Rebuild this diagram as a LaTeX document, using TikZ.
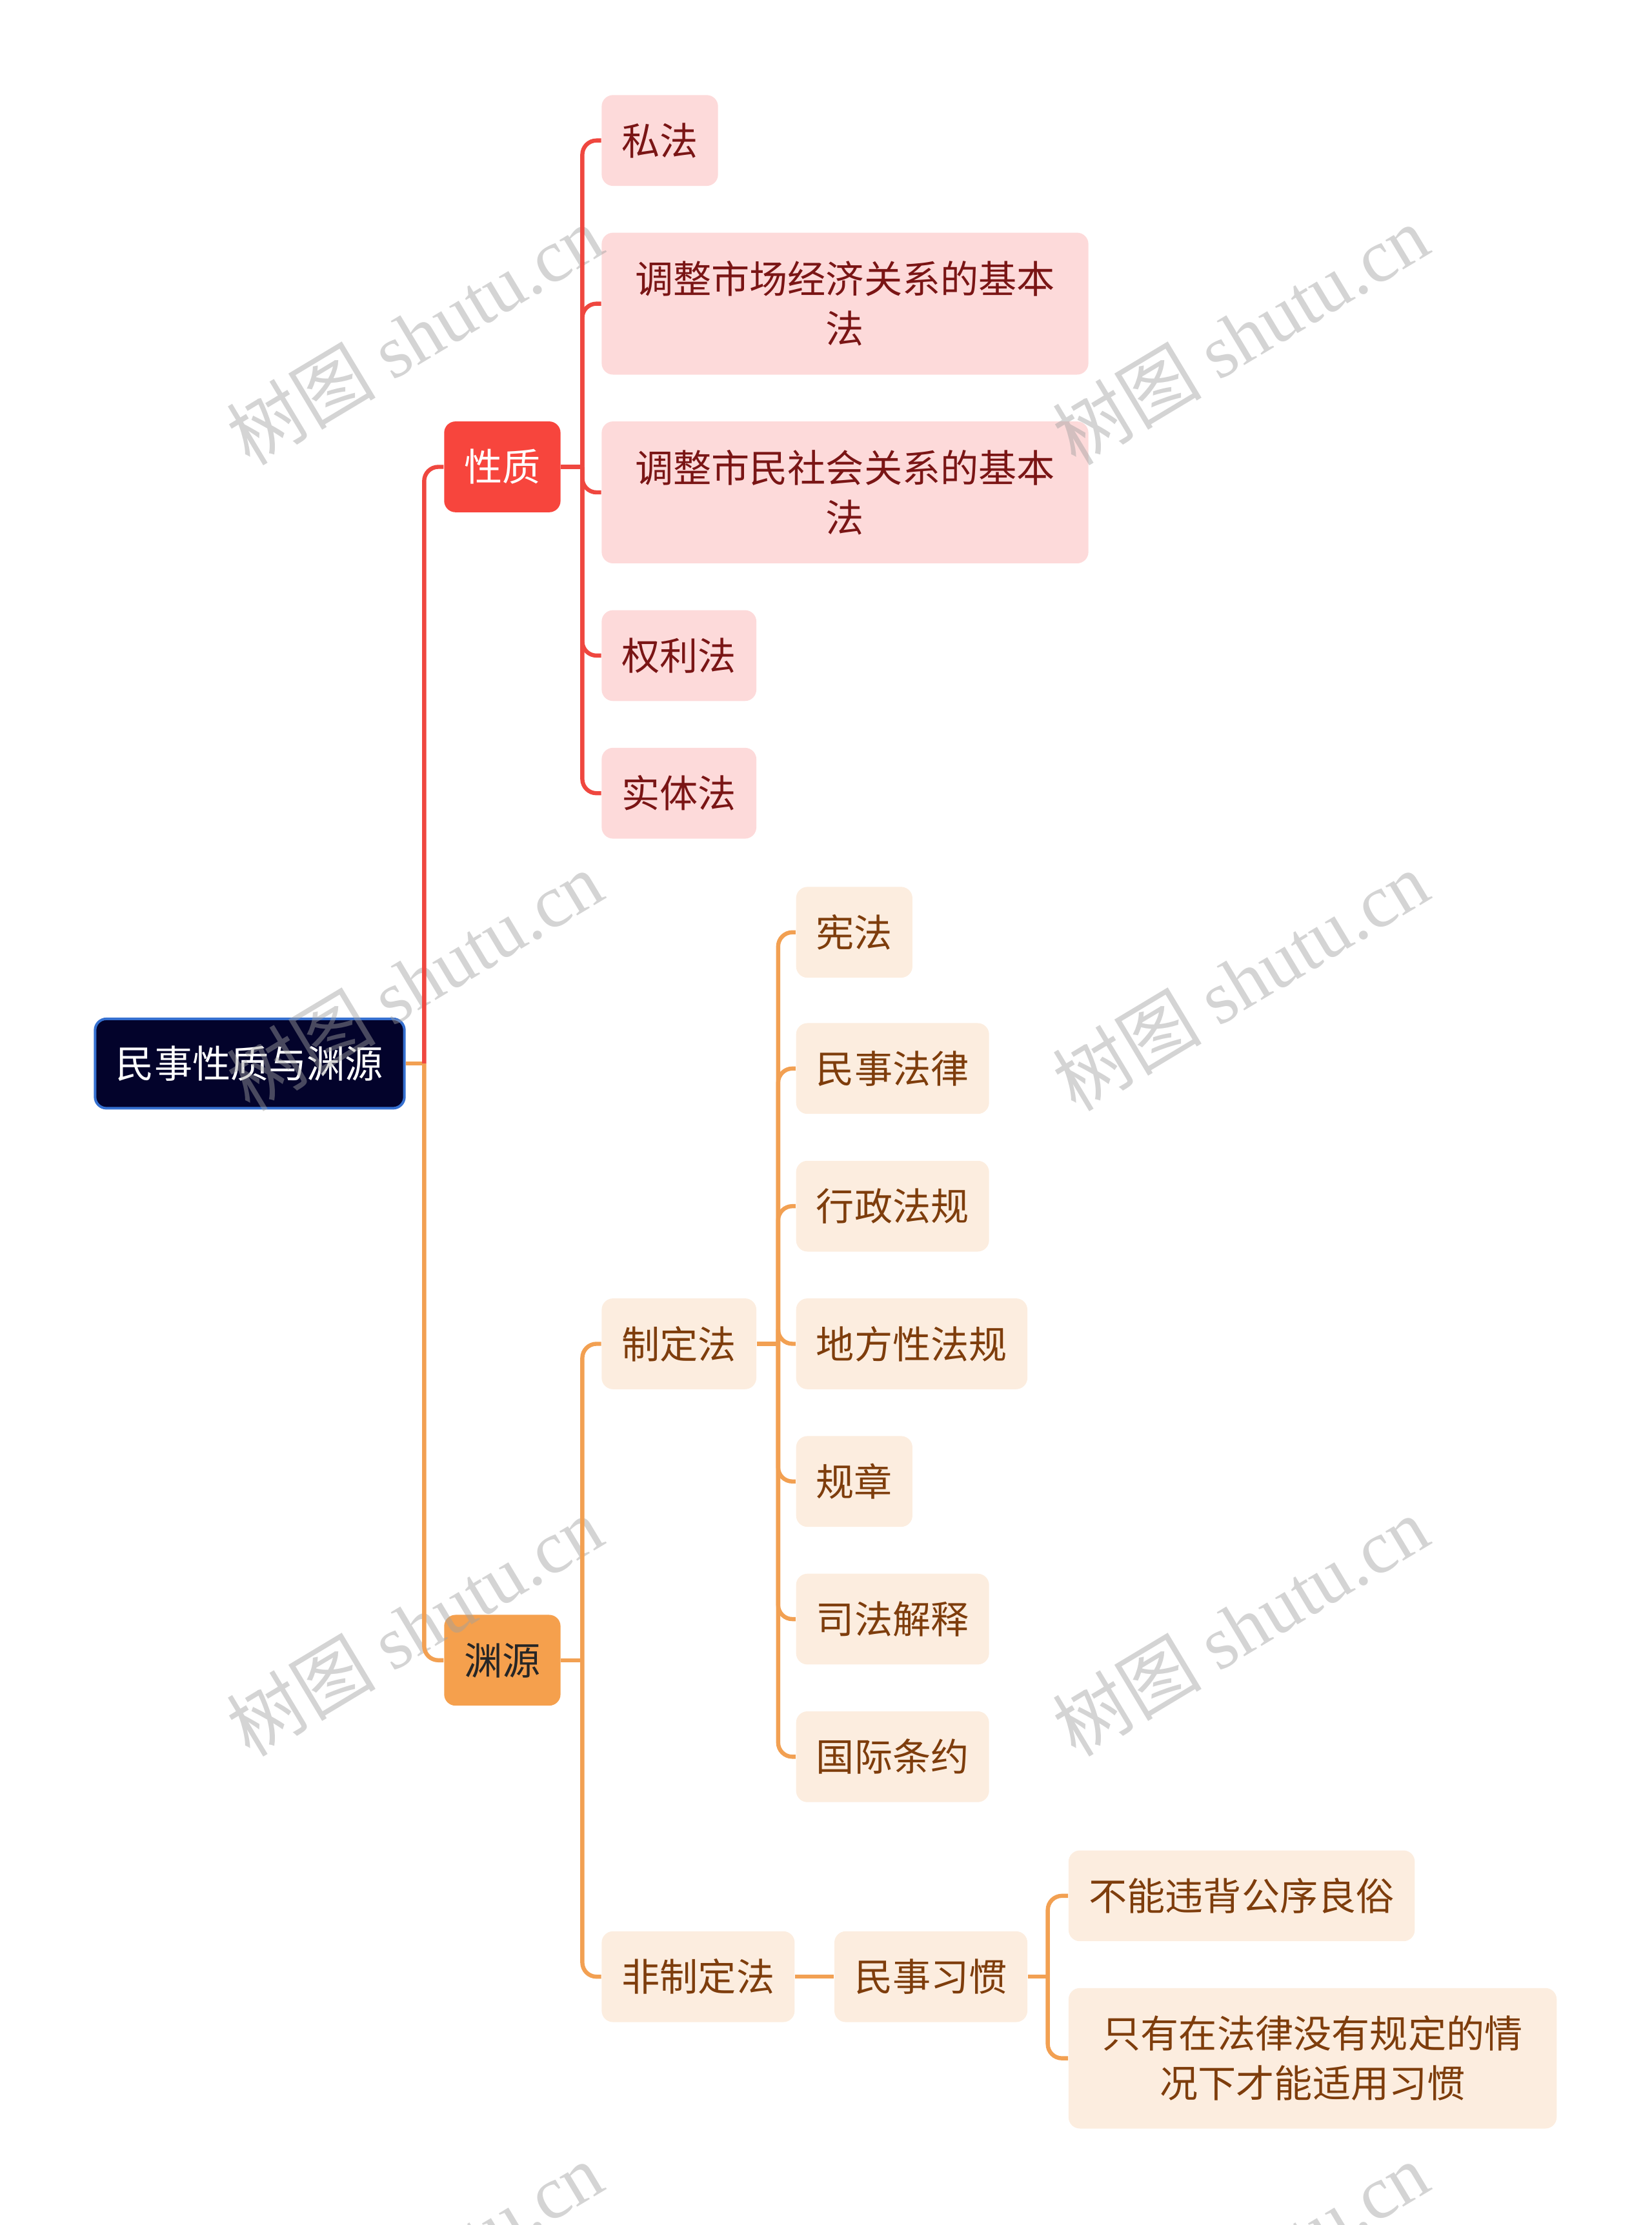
\documentclass[tikz,border=0pt]{standalone}
\usepackage{fontspec}
\setmainfont{Noto Sans CJK SC}
\newfontfamily\wmserif{Liberation Serif}
\usetikzlibrary{calc}
\definecolor{rootfill}{HTML}{03032B}
\definecolor{rootline}{HTML}{3570D0}
\definecolor{redmain}{HTML}{F7453D}
\definecolor{redline}{HTML}{EF473F}
\definecolor{redsub}{HTML}{FDDADA}
\definecolor{redtext}{HTML}{7A1515}
\definecolor{orgmain}{HTML}{F5A04D}
\definecolor{orgline}{HTML}{F2A052}
\definecolor{orgsub}{HTML}{FCEDDF}
\definecolor{orgtext}{HTML}{7E3D0C}
\definecolor{wm}{HTML}{A0A0A0}
\begin{document}
\begin{tikzpicture}[x=0.55pt,y=-0.55pt,
  box/.style={rectangle, rounded corners=4.4pt, inner sep=0pt, align=center, font=\fontsize{14.8}{19.3}\selectfont},
  sz/.style 2 args={minimum width=#1*0.55pt, minimum height=#2*0.55pt},
  rootbox/.style={box, fill=rootfill, draw=rootline, line width=1pt, text=white},
  redbox/.style={box, fill=redmain, text=white},
  redleaf/.style={box, fill=redsub, text=redtext},
  orgbox/.style={box, fill=orgmain, text=black!85},
  orgleaf/.style={box, fill=orgsub, text=orgtext},
  rl/.style={draw=redline, line width=1.6pt},
  ol/.style={draw=orgline, line width=1.6pt},
  rc/.style={rounded corners=5.5pt},
  wmark/.style={text=wm, opacity=0.45, rotate=31, inner sep=0pt, font=\fontsize{29}{29}\selectfont}
]
\useasboundingbox (0,0) rectangle (1164,1568);
\clip (0,0) rectangle (1164,1568);

% nodes
\node[rootbox, sz={218}{63}] (root) at (176,749.5) {民事性质与渊源};
\node[redbox, sz={82}{64}] (xz) at (354,329) {性质};
\node[orgbox, sz={82}{64}] (yy) at (354,1170) {渊源};

\node[redleaf, sz={82}{64}] (sf) at (465,99) {私法};
\node[redleaf, sz={343}{100}] (tz1) at (595.5,214) {调整市场经济关系的基本\\法};
\node[redleaf, sz={343}{100}] (tz2) at (595.5,347) {调整市民社会关系的基本\\法};
\node[redleaf, sz={109}{64}] (ql) at (478.5,462) {权利法};
\node[redleaf, sz={109}{64}] (st) at (478.5,559) {实体法};

\node[orgleaf, sz={109}{64}] (zdf) at (478.5,947) {制定法};
\node[orgleaf, sz={136}{64}] (fzdf) at (492,1393) {非制定法};

\node[orgleaf, sz={82}{64}] (xf) at (602,657) {宪法};
\node[orgleaf, sz={136}{64}] (msfl) at (629,753) {民事法律};
\node[orgleaf, sz={136}{64}] (xzfg) at (629,850) {行政法规};
\node[orgleaf, sz={163}{64}] (dfx) at (642.5,947) {地方性法规};
\node[orgleaf, sz={82}{64}] (gz) at (602,1044) {规章};
\node[orgleaf, sz={136}{64}] (sfjs) at (629,1141) {司法解释};
\node[orgleaf, sz={136}{64}] (gjty) at (629,1238) {国际条约};

\node[orgleaf, sz={136}{64}] (msxg) at (656,1393) {民事习惯};
\node[orgleaf, sz={244}{64}] (bn) at (875,1336) {不能违背公序良俗};
\node[orgleaf, sz={344}{99}] (zy) at (925,1450.5) {只有在法律没有规定的情\\况下才能适用习惯};

% watermarks
\node[wmark] (wm1) at (292,236) {树图 {\wmserif shutu.cn}};
\node[wmark] (wm2) at (874,236) {树图 {\wmserif shutu.cn}};
\node[wmark] (wm3) at (292,691) {树图 {\wmserif shutu.cn}};
\node[wmark] (wm4) at (874,691) {树图 {\wmserif shutu.cn}};
\node[wmark] (wm5) at (292,1146) {树图 {\wmserif shutu.cn}};
\node[wmark] (wm6) at (874,1146) {树图 {\wmserif shutu.cn}};
\node[wmark] (wm7) at (292,1601) {树图 {\wmserif shutu.cn}};
\node[wmark] (wm8) at (874,1601) {树图 {\wmserif shutu.cn}};

% connectors
\coordinate (j1) at ($(root.east)+(13,0)$);
\draw[ol] (root.east) -- (j1);
\draw[rl,rc] (j1) |- (xz.west);
\draw[ol,rc] (j1) |- (yy.west);

\coordinate (j2) at ($(xz.east)+(15,0)$);
\draw[rl] (xz.east) -- (j2);
\foreach \c in {sf,tz1,tz2,ql,st} \draw[rl,rc] (j2) |- (\c.west);

\coordinate (j3) at ($(yy.east)+(15,0)$);
\draw[ol] (yy.east) -- (j3);
\foreach \c in {zdf,fzdf} \draw[ol,rc] (j3) |- (\c.west);

\coordinate (j4) at ($(zdf.east)+(15,0)$);
\draw[ol] (zdf.east) -- (j4);
\foreach \c in {xf,msfl,xzfg,dfx,gz,sfjs,gjty} \draw[ol,rc] (j4) |- (\c.west);

\draw[ol] (fzdf.east) -- (msxg.west);

\coordinate (j5) at ($(msxg.east)+(14,0)$);
\draw[ol] (msxg.east) -- (j5);
\foreach \c in {bn,zy} \draw[ol,rc] (j5) |- (\c.west);
\end{tikzpicture}
\end{document}
